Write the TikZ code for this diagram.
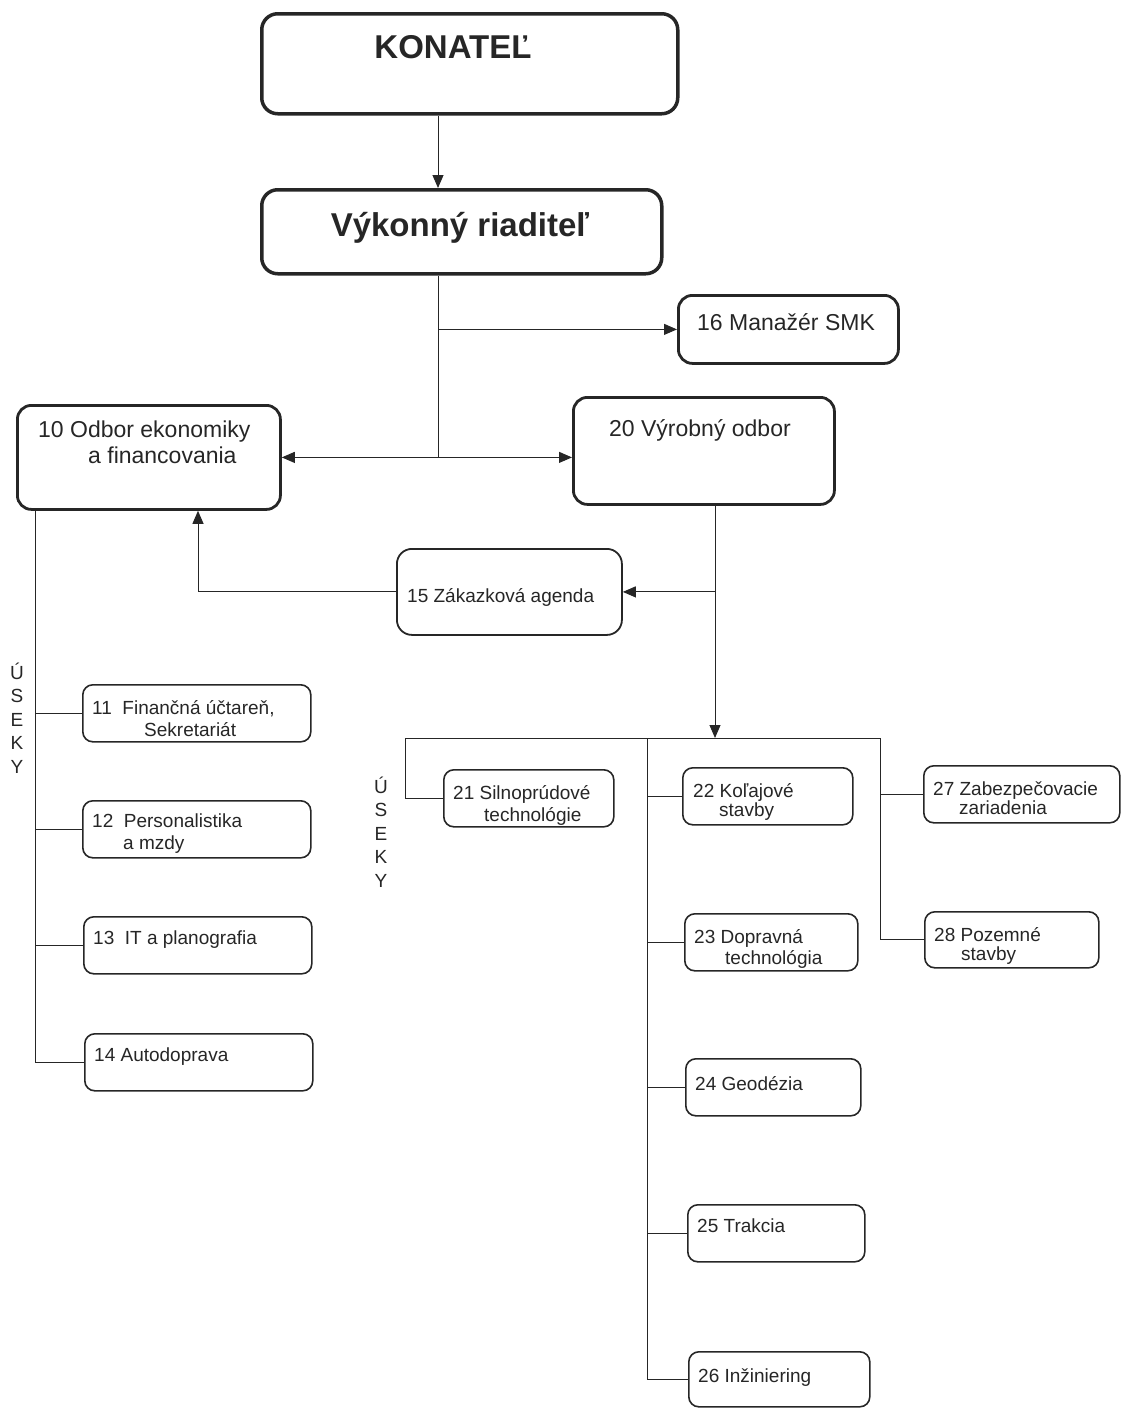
\documentclass[tikz,border=0pt]{standalone}
\usepackage{fontspec}
\setmainfont{Liberation Sans}
\usetikzlibrary{arrows.meta}

\tikzset{
  heavybox/.style={draw, line width=3.5pt, rounded corners=16pt, anchor=north west, inner sep=0pt},
  mainbox/.style={draw, line width=2.8pt, rounded corners=14pt, anchor=north west, inner sep=0pt},
  unitbox/.style={draw, line width=1.6pt, rounded corners=10pt, anchor=north west, inner sep=0pt},
  titletxt/.style={anchor=base, inner sep=0pt, font=\bfseries\fontsize{33}{36}\selectfont},
  headtxt/.style={anchor=base west, inner sep=0pt, font=\fontsize{23}{26}\selectfont},
  txt/.style={anchor=base west, inner sep=0pt, font=\fontsize{19}{22}\selectfont},
  useky/.style={align=center, inner sep=0pt, font=\fontsize{19}{23.5}\selectfont},
  line/.style={line width=1pt},
  arr/.style={line width=1pt, -{Triangle[length=13pt,width=11pt]}},
}

\begin{document}
\begin{tikzpicture}[x=1pt, y=-1pt, black!85]
    \useasboundingbox (0,0) rectangle (1121,1408);

    % vedenie
    \node[heavybox, minimum width=416, minimum height=100] (konatel) at (260,12) {};
    \node[heavybox, minimum width=400, minimum height=84] (riaditel) at (260,188) {};
    \node[titletxt] (tkonatel) at (453,58) {KONATEĽ};
    \node[titletxt] (triaditel) at (460,236) {Výkonný riaditeľ};

    % odbory
    \node[mainbox, minimum width=220, minimum height=68] (smk) at (677,294) {};
    \node[mainbox, minimum width=263, minimum height=104] (odbor10) at (16,404) {};
    \node[mainbox, minimum width=261, minimum height=107] (odbor20) at (572,396) {};
    \node[unitbox, line width=1.8pt, rounded corners=15pt, minimum width=225, minimum height=86] (agenda) at (396,548) {};
    \node[headtxt] (tsmk) at (697,330) {16 Manažér SMK};
    \node[headtxt] (t10a) at (38,437) {10 Odbor ekonomiky};
    \node[headtxt] (t10b) at (88,463) {a financovania};
    \node[headtxt] (t20) at (609,436) {20 Výrobný odbor};
    \node[txt] (t15) at (407,602) {15 Zákazková agenda};

    % useky odboru 10
    \node[unitbox, minimum width=228, minimum height=57] (u11) at (82,684) {};
    \node[unitbox, minimum width=228, minimum height=57] (u12) at (82,800) {};
    \node[unitbox, minimum width=228, minimum height=57] (u13) at (83,916) {};
    \node[unitbox, minimum width=228, minimum height=57] (u14) at (84,1033) {};
    \node[txt] (t11a) at (92,714) {11~~Finančná účtareň,};
    \node[txt] (t11b) at (144,736) {Sekretariát};
    \node[txt] (t12a) at (92,827) {12~~Personalistika};
    \node[txt] (t12b) at (123,849) {a mzdy};
    \node[txt] (t13) at (93,944) {13~~IT~a planografia};
    \node[txt] (t14) at (94,1061) {14 Autodoprava};
    \node[useky] (useky1) at (17,718) {Ú\\S\\E\\K\\Y};

    % useky odboru 20
    \node[unitbox, minimum width=170, minimum height=57] (u21) at (443,769) {};
    \node[unitbox, minimum width=170, minimum height=57] (u22) at (682,767) {};
    \node[unitbox, minimum width=173, minimum height=57] (u23) at (684,913) {};
    \node[unitbox, minimum width=175, minimum height=57] (u24) at (685,1058) {};
    \node[unitbox, minimum width=177, minimum height=57] (u25) at (687,1204) {};
    \node[unitbox, minimum width=181, minimum height=55] (u26) at (688,1351) {};
    \node[unitbox, minimum width=196, minimum height=57] (u27) at (923,765) {};
    \node[unitbox, minimum width=174, minimum height=56] (u28) at (924,911) {};
    \node[txt] (t21a) at (453,799) {21 Silnoprúdové};
    \node[txt] (t21b) at (484,821) {technológie};
    \node[txt] (t22a) at (693,797) {22 Koľajové};
    \node[txt] (t22b) at (719,816) {stavby};
    \node[txt] (t23a) at (694,943) {23 Dopravná};
    \node[txt] (t23b) at (725,964) {technológia};
    \node[txt] (t24) at (695,1090) {24 Geodézia};
    \node[txt] (t25) at (697,1232) {25 Trakcia};
    \node[txt] (t26) at (698,1382) {26 Inžiniering};
    \node[txt] (t27a) at (933,795) {27 Zabezpečovacie};
    \node[txt] (t27b) at (959,814) {zariadenia};
    \node[txt] (t28a) at (934,941) {28 Pozemné};
    \node[txt] (t28b) at (961,960) {stavby};
    \node[useky] (useky2) at (381,832) {Ú\\S\\E\\K\\Y};

    % pomocne body
    \coordinate (spineA) at (438,0);
    \coordinate (spineB) at (715,0);
    \coordinate (spineC) at (198,0);
    \coordinate (busL) at (35,0);
    \coordinate (bus) at (0,738);
    \coordinate (bus21) at (405,0);
    \coordinate (bus2) at (647,0);
    \coordinate (bus27) at (880,0);

    % spojenia
    \draw[arr] (konatel.south -| spineA) -- (riaditel.north -| spineA);
    \draw[line] (riaditel.south -| spineA) -- (spineA |- odbor10.east);
    \draw[arr] (spineA |- smk.west) -- (smk.west);
    \draw[arr] (spineA |- odbor10.east) -- (odbor10.east);
    \draw[arr] (spineA |- odbor10.east) -- (odbor20.west |- odbor10.east);
    \draw[arr] (odbor20.south -| spineB) -- (spineB |- bus);
    \draw[arr] (spineB |- agenda.east) -- (agenda.east);
    \draw[arr] (agenda.west) -| (odbor10.south -| spineC);

    \draw[line] (odbor10.south -| busL) |- (u14.west);
    \draw[line] (busL |- u11.west) -- (u11.west);
    \draw[line] (busL |- u12.west) -- (u12.west);
    \draw[line] (busL |- u13.west) -- (u13.west);

    \draw[line] (bus21 |- bus) -- (bus27 |- bus);
    \draw[line] (bus21 |- bus) |- (u21.west);
    \draw[line] (bus2 |- bus) |- (u26.west);
    \draw[line] (bus2 |- u22.west) -- (u22.west);
    \draw[line] (bus2 |- u23.west) -- (u23.west);
    \draw[line] (bus2 |- u24.west) -- (u24.west);
    \draw[line] (bus2 |- u25.west) -- (u25.west);
    \draw[line] (bus27 |- bus) |- (u28.west);
    \draw[line] (bus27 |- u27.west) -- (u27.west);
\end{tikzpicture}
\end{document}
